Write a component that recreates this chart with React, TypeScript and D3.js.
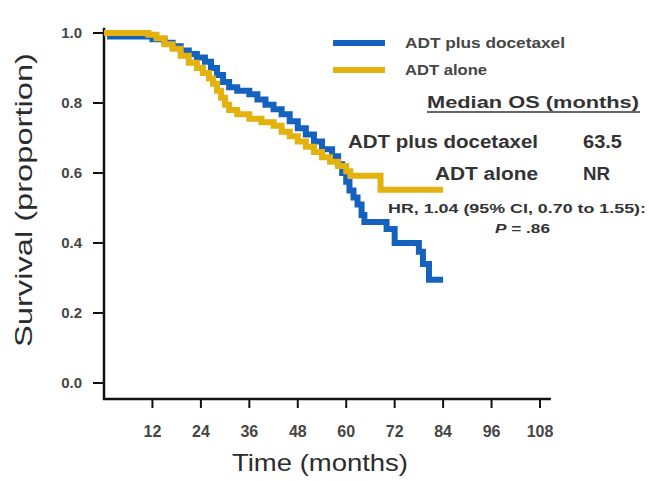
import React from 'react';
import * as d3 from 'd3';

// Kaplan-Meier step points [month, survival]
const docetaxelSteps: [number, number][] = [
  [0, 1.0], [1.5, 0.99], [12, 0.982], [15, 0.972], [17, 0.962], [19, 0.95], [21, 0.94],
  [23, 0.93], [25, 0.918], [26.5, 0.9], [28, 0.88], [29.5, 0.86], [31, 0.845], [33, 0.835],
  [36, 0.825], [38, 0.81], [40, 0.795], [42, 0.782], [44, 0.768], [46, 0.748], [48, 0.728],
  [50, 0.71], [52, 0.69], [54, 0.668], [56.5, 0.648], [58, 0.625], [59, 0.6], [60, 0.575],
  [60.8, 0.55], [61.8, 0.53], [62.8, 0.51], [63.8, 0.48], [64.5, 0.46], [70, 0.44],
  [72, 0.4], [78, 0.375], [79, 0.34], [80.5, 0.295], [84, 0.295],
];

const aloneSteps: [number, number][] = [
  [0, 1.0], [11, 0.995], [13, 0.985], [15, 0.968], [17, 0.955], [19, 0.935], [21, 0.915],
  [23, 0.9], [24.5, 0.886], [26, 0.87], [27, 0.855], [28, 0.835], [29, 0.815], [30, 0.795],
  [31, 0.78], [33, 0.768], [36, 0.755], [39, 0.745], [42, 0.735], [44, 0.718], [46, 0.705],
  [48, 0.69], [50, 0.675], [52, 0.66], [54, 0.645], [56, 0.632], [58, 0.62], [60, 0.605],
  [61, 0.592], [68.5, 0.552], [84, 0.552],
];

const xTicks = [12, 24, 36, 48, 60, 72, 84, 96, 108];
const yTicks = [0, 0.2, 0.4, 0.6, 0.8, 1.0];

const BLUE = '#1462bd';
const GOLD = '#e3b20f';
const TEXT = '#2b2b2b';
const SOFT = '#464646';
const FONT = '"Liberation Sans", Arial, sans-serif';

export default function App() {
  const x = d3.scaleLinear().domain([0, 108]).range([104, 540]);
  const y = d3.scaleLinear().domain([0, 1]).range([383, 33]);
  const axisY = 399;

  const line = d3
    .line<[number, number]>()
    .x(d => x(d[0]))
    .y(d => y(d[1]))
    .curve(d3.curveStepAfter);

  return (
    <svg width={649} height={481} style={{ position: 'absolute', left: 0, top: 0, background: '#fff' }}>
      <g fontFamily={FONT} fill={TEXT}>
        {/* axes */}
        <line x1={x(0)} x2={x(0)} y1={y(1.015)} y2={axisY + 1} stroke="#111" strokeWidth={2.5} />
        <line x1={x(0) - 1} x2={x(110.7)} y1={axisY} y2={axisY} stroke="#111" strokeWidth={2.5} />
        {yTicks.map(t => (
          <g key={t}>
            <line x1={x(0) - 11} x2={x(0)} y1={y(t)} y2={y(t)} stroke="#111" strokeWidth={2} />
            <text x={82} y={y(t) + 5} fontSize={15} fontWeight="bold" fill={SOFT} textAnchor="end">
              {t.toFixed(1)}
            </text>
          </g>
        ))}
        {xTicks.map(t => (
          <g key={t}>
            <line x1={x(t)} x2={x(t)} y1={axisY} y2={axisY + 9} stroke="#111" strokeWidth={2} />
            <text x={x(t)} y={437} fontSize={16} fontWeight="bold" fill={SOFT} textAnchor="middle">{t}</text>
          </g>
        ))}
        <text x={320} y={471} fontSize={24} textAnchor="middle" textLength={176} lengthAdjust="spacingAndGlyphs">
          Time (months)
        </text>
        <text
          transform="translate(32,200) rotate(-90)"
          fontSize={24}
          textAnchor="middle"
          textLength={294}
          lengthAdjust="spacingAndGlyphs"
        >
          Survival (proportion)
        </text>

        {/* curves */}
        <path d={line(docetaxelSteps) || ''} fill="none" stroke={BLUE} strokeWidth={6} />
        <path d={line(aloneSteps) || ''} fill="none" stroke={GOLD} strokeWidth={6} />

        {/* legend */}
        <line x1={333} x2={385} y1={43} y2={43} stroke={BLUE} strokeWidth={6} />
        <text x={405} y={48} fontSize={14} fontWeight="bold" fill={SOFT} textLength={160} lengthAdjust="spacingAndGlyphs">
          ADT plus docetaxel
        </text>
        <line x1={333} x2={385} y1={70} y2={70} stroke={GOLD} strokeWidth={6} />
        <text x={405} y={75} fontSize={14} fontWeight="bold" fill={SOFT} textLength={82} lengthAdjust="spacingAndGlyphs">
          ADT alone
        </text>

        {/* median OS table */}
        <g fontWeight="bold" fill="#333">
          <text x={427} y={108} fontSize={17} textLength={212} lengthAdjust="spacingAndGlyphs">Median OS (months)</text>
          <line x1={427} x2={640} y1={112} y2={112} stroke="#333" strokeWidth={1.3} />
          <text x={348} y={148} fontSize={18} textLength={190} lengthAdjust="spacingAndGlyphs">ADT plus docetaxel</text>
          <text x={583} y={148} fontSize={18} textLength={39} lengthAdjust="spacingAndGlyphs">63.5</text>
          <text x={538} y={180} fontSize={18} textAnchor="end" textLength={103} lengthAdjust="spacingAndGlyphs">ADT alone</text>
          <text x={583} y={180} fontSize={18} textLength={27} lengthAdjust="spacingAndGlyphs">NR</text>
          <text x={388} y={213} fontSize={13} textLength={258} lengthAdjust="spacingAndGlyphs">
            HR, 1.04 (95% CI, 0.70 to 1.55):
          </text>
          <text x={495} y={233} fontSize={13} textLength={55} lengthAdjust="spacingAndGlyphs">
            <tspan fontStyle="italic">P</tspan> = .86
          </text>
        </g>
      </g>
    </svg>
  );
}
